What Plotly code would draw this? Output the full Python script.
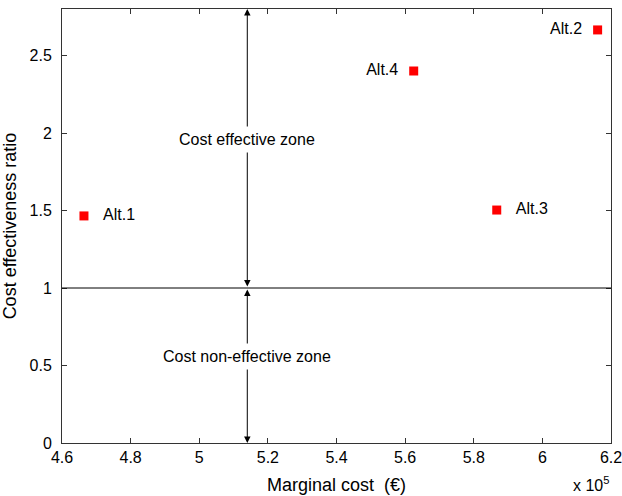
import plotly.graph_objects as go

alt_labels = ["Alt.1", "Alt.2", "Alt.3", "Alt.4"]
marginal_cost = [4.664, 6.161, 5.867, 5.625]  # x 10^5 €
ce_ratio = [1.465, 2.665, 1.503, 2.40]
label_pos = ["middle right", "middle left", "middle right", "middle left"]

threshold = 1.0
zone_x = 5.14
x_ticks = [4.6, 4.8, 5.0, 5.2, 5.4, 5.6, 5.8, 6.0, 6.2]
x_tick_text = ["4.6", "4.8", "5", "5.2", "5.4", "5.6", "5.8", "6", "6.2"]
y_ticks = [0, 0.5, 1, 1.5, 2, 2.5]
y_tick_text = ["0", "0.5", "1", "1.5", "2", "2.5"]
y_max = 2.8

font = "Liberation Sans, Arial, sans-serif"

fig = go.Figure()
fig.add_trace(go.Scatter(
    x=marginal_cost, y=ce_ratio, mode="markers+text",
    text=["   " + t + "  " for t in alt_labels], textposition=label_pos,
    marker=dict(symbol="square", size=9, color="#ff0000"),
    textfont=dict(family=font, size=16, color="black"),
    showlegend=False, cliponaxis=False,
))

# threshold line
fig.add_shape(type="line", x0=4.6, x1=6.2, y0=threshold, y1=threshold,
              xref="x", yref="y", line=dict(color="black", width=1))

arrow_kw = dict(xref="x", yref="y", axref="x", ayref="y", showarrow=True,
                arrowhead=2, startarrowhead=2, arrowside="end+start",
                arrowsize=1.3, startarrowsize=1.3, arrowwidth=1, arrowcolor="black", text="")
fig.add_annotation(x=zone_x, y=y_max, ax=zone_x, ay=threshold, **arrow_kw)
fig.add_annotation(x=zone_x, y=0, ax=zone_x, ay=threshold, **arrow_kw)

fig.add_annotation(x=zone_x, y=1.96, text="Cost effective zone", showarrow=False,
                   bgcolor="white", font=dict(family=font, size=16, color="black"),
                   borderpad=4, xref="x", yref="y")
fig.add_annotation(x=zone_x, y=0.555, text="Cost non-effective zone", showarrow=False,
                   bgcolor="white", font=dict(family=font, size=16, color="black"),
                   borderpad=4, xref="x", yref="y")

fig.add_annotation(x=1.0, y=0, xref="paper", yref="paper", yshift=-53, xanchor="right",
                   yanchor="bottom", xshift=0,
                   text="x 10<sup>5</sup>", showarrow=False,
                   font=dict(family=font, size=16, color="black"))

axis_common = dict(showgrid=False, zeroline=False, showline=True, mirror="ticks",
                   linecolor="#333333", linewidth=1, ticks="inside", ticklen=5,
                   tickcolor="#333333", automargin=False, ticklabeloverflow="allow",
                   tickfont=dict(family=font, size=16, color="black"))

fig.update_xaxes(range=[4.6, 6.2], tickvals=x_ticks, ticktext=x_tick_text,
                 title=dict(text="Marginal cost  (€)", standoff=13,
                            font=dict(family=font, size=18, color="black")),
                 **axis_common)
fig.update_yaxes(range=[0, y_max], tickvals=y_ticks, ticktext=y_tick_text,
                 ticklabelstandoff=6,
                 title=dict(text="Cost effectiveness ratio", standoff=10,
                            font=dict(family=font, size=18, color="black")),
                 **axis_common)

fig.update_layout(width=622, height=496, plot_bgcolor="white", paper_bgcolor="white",
                  margin=dict(l=62, r=11, t=9, b=53))

fig.write_html("out.html", config={"displayModeBar": False},
               post_script="document.body.style.margin='0';")
